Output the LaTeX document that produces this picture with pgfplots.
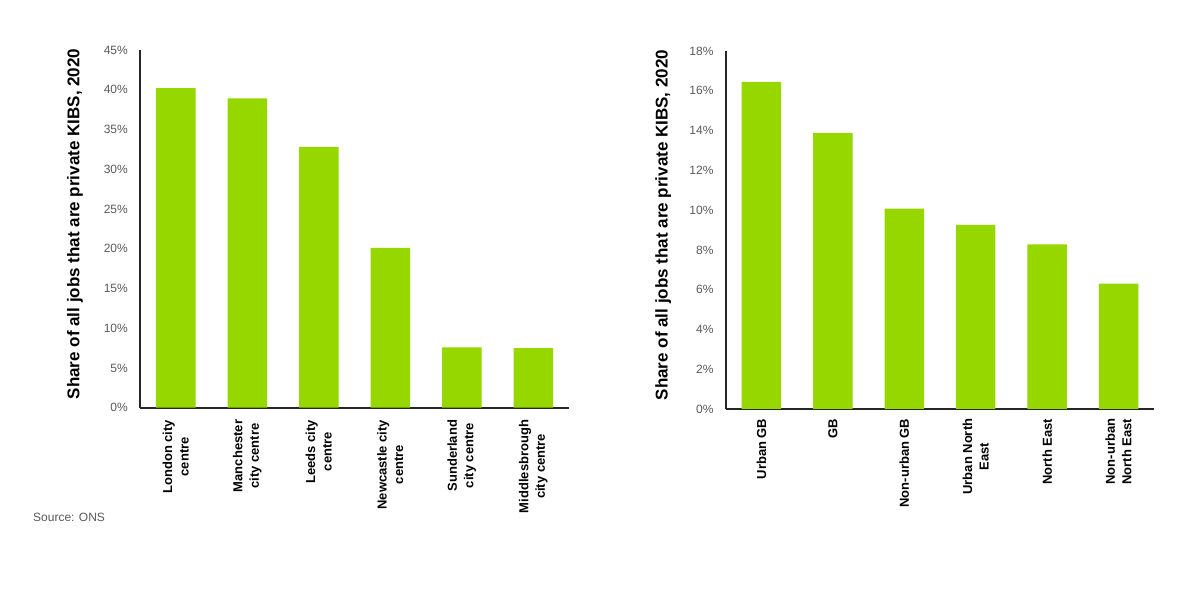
\documentclass[border=0pt]{standalone}
\usepackage{pgfplots}
\pgfplotsset{compat=1.18}
\usepackage{fontspec}
\setmainfont{Liberation Sans}
\definecolor{kgreen}{HTML}{97D700}
\definecolor{tickgray}{HTML}{595959}
\begin{document}
\begin{tikzpicture}
\path[use as bounding box] (0pt,0pt) rectangle (1200pt,594pt);
\pgfplotsset{
  kibs/.style={
    scale only axis,
    anchor=south west,
    axis x line*=bottom,
    axis y line*=left,
    axis line style={line width=1.8pt, color=black!85},
    xmin=-0.5, xmax=5.5, ymin=0,
    xtick={0,...,5},
    major tick length=0pt,
    tick style={draw=none},
    ybar, bar width=39.5pt,
    /pgf/number format/assume math mode=true,
    yticklabel={\pgfmathprintnumber{\tick}\%},
    yticklabel style={font=\fontsize{12}{14}\selectfont, color=tickgray, anchor=east, inner sep=0pt, xshift=-12pt},
    ylabel={Share of all jobs that are private KIBS, 2020},
    ylabel style={font=\fontsize{17}{20}\selectfont\bfseries, anchor=center},
  }
}
\begin{axis}[kibs,
  at={(140pt,186.3pt)}, width=429pt, height=357.7pt,
  ymax=45, ytick={0,5,...,45},
  ylabel style={at={(axis description cs:-0.1515,0.5137)}},
  xticklabels={{London city\\centre},{Manchester\\city centre},{Leeds city\\centre},{Newcastle city\\centre},{Sunderland\\city centre},{Middlesbrough\\city centre}},
  xticklabel style={font=\fontsize{13}{16.5}\selectfont\bfseries, align=center, inner sep=0pt, yshift=-12pt, rotate=90, anchor=east},
]
\addplot[fill=kgreen, draw=none] coordinates {(0,40.2) (1,38.9) (2,32.8) (3,20.1) (4,7.6) (5,7.5)};
\end{axis}
\begin{axis}[kibs,
  at={(725.7pt,185pt)}, width=428.6pt, height=358pt,
  ymax=18, ytick={0,2,...,18},
  ylabel style={at={(axis description cs:-0.146,0.514)}},
  xticklabels={{Urban GB},{GB},{Non-urban GB},{Urban North\\East},{North East},{Non-urban\\North East}},
  xticklabel style={font=\fontsize{13}{16.5}\selectfont\bfseries, align=center, inner sep=0pt, yshift=-9.5pt, rotate=90, anchor=east},
]
\addplot[fill=kgreen, draw=none] coordinates {(0,16.45) (1,13.88) (2,10.08) (3,9.26) (4,8.28) (5,6.30)};
\end{axis}
\node[anchor=west, inner sep=0pt, color=tickgray, font=\fontsize{12}{14}\selectfont] at (33pt,77pt) {Source: ONS};
\end{tikzpicture}
\end{document}
